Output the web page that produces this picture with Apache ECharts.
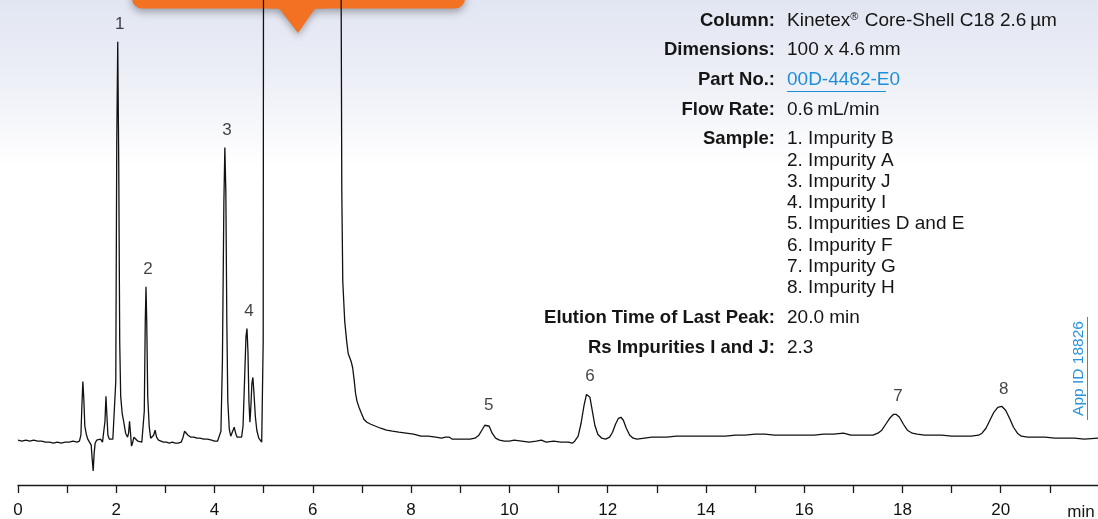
<!DOCTYPE html>
<html>
<head>
<meta charset="utf-8">
<script src="https://cdn.jsdelivr.net/npm/echarts@6/dist/echarts.min.js"></script>
<style>
html,body{margin:0;padding:0;background:#fff;}
#chart{width:1098px;height:519px;}
</style>
</head>
<body>
<div id="chart"></div>
<script>
// ---- data (time in min, detector signal in arbitrary units; baseline ~0) ----
const timeMin = [0.00,0.08,0.16,0.24,0.32,0.40,0.48,0.56,0.64,0.72,0.80,0.88,0.96,1.04,1.12,1.20,1.25,1.28,1.30,1.32,1.34,1.36,1.39,1.42,1.46,1.49,1.51,1.53,1.55,1.57,1.60,1.64,1.68,1.72,1.75,1.77,1.79,1.81,1.83,1.86,1.90,1.93,1.97,1.99,2.01,2.03,2.05,2.07,2.09,2.12,2.15,2.19,2.23,2.25,2.27,2.29,2.31,2.33,2.36,2.38,2.40,2.44,2.48,2.52,2.55,2.57,2.59,2.605,2.62,2.64,2.67,2.70,2.73,2.76,2.79,2.82,2.86,2.90,2.96,3.02,3.08,3.14,3.20,3.26,3.32,3.36,3.39,3.42,3.46,3.52,3.58,3.64,3.70,3.78,3.86,3.94,4.00,4.06,4.10,4.13,4.16,4.19,4.21,4.23,4.25,4.27,4.30,4.33,4.36,4.40,4.43,4.46,4.50,4.55,4.58,4.61,4.64,4.66,4.68,4.70,4.72,4.74,4.76,4.78,4.80,4.83,4.86,4.90,4.93,4.96,4.98,4.99,5.00,6.56,6.57,6.59,6.61,6.65,6.69,6.72,6.75,6.78,6.81,6.84,6.87,6.90,6.94,6.98,7.04,7.10,7.18,7.28,7.38,7.50,7.62,7.75,7.90,8.05,8.20,8.35,8.50,8.62,8.70,8.74,8.78,8.84,8.95,9.08,9.20,9.30,9.38,9.44,9.50,9.54,9.59,9.65,9.72,9.80,9.90,10.00,10.10,10.25,10.40,10.55,10.65,10.75,10.90,11.05,11.20,11.28,11.33,11.40,11.46,11.52,11.57,11.60,11.64,11.69,11.74,11.80,11.88,11.96,12.04,12.10,12.16,12.22,12.27,12.32,12.38,12.45,12.52,12.60,12.75,12.90,13.05,13.20,13.40,13.60,13.80,14.00,14.20,14.40,14.60,14.80,15.00,15.20,15.40,15.60,15.80,16.00,16.20,16.40,16.60,16.80,16.95,17.10,17.25,17.40,17.50,17.58,17.66,17.74,17.82,17.87,17.94,18.02,18.10,18.20,18.30,18.45,18.60,18.80,19.00,19.20,19.40,19.55,19.62,19.70,19.78,19.86,19.94,20.02,20.10,20.18,20.26,20.34,20.42,20.55,20.70,20.90,21.10,21.30,21.50,21.70,21.98];
const signal = [1,0,1,0,1,0,0,-1,-1,-2,-1,-2,-1,-1,0,-1,0,6,35,60,42,15,7,2,1,-4,-18,-30,-12,-2,1,3,2,-1,0,20,45,25,6,2,4,2,3,60,300,401,280,100,45,28,20,8,4,8,20,8,-5,-2,4,6,2,0,-2,-1,0,30,120,155,120,45,15,3,2,6,11,4,1,0,-1,-1,-2,-1,-2,-2,-1,4,10,8,6,4,4,3,3,2,2,1,0,0,1,10,80,240,295,250,120,40,12,5,6,14,8,4,3,4,15,60,105,113,90,40,19,35,58,64,50,25,11,3,1,-1,0,100,700,700,700,250,160,120,100,88,84,80,74,62,48,40,34,29,22,19,17,15,13,11,10,9,8,7,5,5,4,3,4,6,4,2,2,2,2,3,6,11,16,18,15,8,3,1,0,0,1,0,-1,0,1,-1,0,-1,-1,-2,0,5,18,36,47,48,44,30,16,7,3,2,4,9,17,23,24,21,13,6,3,2,3,4,4,4,5,5,5,5,5,5,6,6,7,7,6,6,6,6,6,7,7,8,6,6,6,6,8,11,17,23,27,27,24,17,11,8,7,6,6,6,5,5,5,6,8,13,21,29,34,35,31,23,14,8,5,4,4,4,3,3,3,2,3];

const peakLabels = ['1','2','3','4','5','6','7','8'];
const peakTimes  = [2.03, 2.605, 4.21, 4.66, 9.54, 11.60, 17.87, 20.02];
const peakHeights = [401, 155, 295, 113, 18, 48, 27, 35];

const xTicks = [0,2,4,6,8,10,12,14,16,18,20];
const xUnit = 'min';

const infoLabels = ['Column:','Dimensions:','Part No.:','Flow Rate:','Sample:','Elution Time of Last Peak:','Rs Impurities I and J:'];
const infoValues = ['Kinetex{sup|®} Core-Shell C18 2.6\u2009µm','100 x 4.6\u2009mm','00D-4462-E0','0.6\u2009mL/min','1. Impurity B','20.0 min','2.3'];
const sampleList = ['2. Impurity A','3. Impurity J','4. Impurity I','5. Impurities D and E','6. Impurity F','7. Impurity G','8. Impurity H'];
const appId = 'App ID 18826';

// ---- layout ----
const FONT = '"Liberation Sans", Arial, Helvetica, sans-serif';
const infoRowY = [21, 50, 80, 110, 139, 318, 348];
const labelX = 775, valueX = 787;

const graphics = [];
infoLabels.forEach((t, i) => {
  graphics.push({
    type: 'text', z: 50,
    style: { text: t, x: labelX, y: infoRowY[i], fill: '#151515',
      font: 'bold 18.5px ' + FONT, textAlign: 'right', align: 'right',
      textVerticalAlign: 'middle', verticalAlign: 'middle' }
  });
  const isLink = i === 2;
  graphics.push({
    type: 'text', z: 50,
    style: { text: infoValues[i], x: valueX, y: infoRowY[i], fill: isLink ? '#1d8fd6' : '#151515',
      font: '19px ' + FONT, textAlign: 'left', align: 'left',
      textVerticalAlign: 'middle', verticalAlign: 'middle',
      rich: { sup: { fontSize: 11, fontFamily: 'Liberation Sans', verticalAlign: 'top', fill: '#151515', padding: [0, 1, 0, 0] } } }
  });
});
sampleList.forEach((t, i) => {
  graphics.push({
    type: 'text', z: 50,
    style: { text: t, x: valueX, y: 139 + (i + 1) * 21.3, fill: '#151515',
      font: '19px ' + FONT, textAlign: 'left', align: 'left',
      textVerticalAlign: 'middle', verticalAlign: 'middle' }
  });
});
// link underline
graphics.push({ type: 'line', z: 50, shape: { x1: 787, y1: 91.5, x2: 886, y2: 91.5 }, style: { stroke: '#1d8fd6', lineWidth: 1 } });
// App ID rotated
graphics.push({
  type: 'text', z: 50, x: 1079, y: 368.5, rotation: Math.PI / 2,
  style: { text: appId, x: 0, y: 0, fill: '#2a93dc', font: '15.5px ' + FONT,
    textAlign: 'center', align: 'center', textVerticalAlign: 'middle', verticalAlign: 'middle' }
});
graphics.push({ type: 'line', z: 50, shape: { x1: 1087.5, y1: 317, x2: 1087.5, y2: 420 }, style: { stroke: '#2a93dc', lineWidth: 1 } });
// "min" unit
graphics.push({
  type: 'text', z: 50,
  style: { text: xUnit, x: 1081, y: 512, fill: '#151515', font: '17px ' + FONT,
    textAlign: 'center', align: 'center', textVerticalAlign: 'middle', verticalAlign: 'middle' }
});
// orange callout
graphics.push({
  type: 'group', z: 100,
  children: [
    { type: 'rect', shape: { x: 132, y: -30, width: 333, height: 38.5, r: 10 },
      style: { fill: '#f37122', shadowBlur: 9, shadowOffsetY: 3, shadowColor: 'rgba(0,0,0,0.35)' } },
    { type: 'polygon', shape: { points: [[278, 7], [316, 7], [298, 33]] },
      style: { fill: '#f37122', shadowBlur: 7, shadowOffsetY: 3, shadowColor: 'rgba(0,0,0,0.3)' } },
    { type: 'rect', shape: { x: 270, y: 0, width: 55, height: 8.5 }, style: { fill: '#f37122' } }
  ]
});

const chart = echarts.init(document.getElementById('chart'), null, { renderer: 'canvas' });
chart.setOption({
  animation: false,
  backgroundColor: {
    type: 'linear', x: 0, y: 0, x2: 0, y2: 1,
    colorStops: [
      { offset: 0, color: '#e2e6f2' },
      { offset: 0.14, color: '#eceef6' },
      { offset: 0.32, color: '#ffffff' },
      { offset: 1, color: '#ffffff' }
    ]
  },
  grid: { left: 18, right: 0, top: 0, bottom: 32, containLabel: false },
  xAxis: {
    type: 'value', min: 0, max: 21.98, interval: 1,
    axisLine: { show: true, onZero: false, lineStyle: { color: '#1a1a1a', width: 1.3 } },
    axisTick: { show: true, length: 8, inside: false, lineStyle: { color: '#1a1a1a', width: 1.3 } },
    axisLabel: {
      show: true, margin: 17, fontSize: 17, color: '#111', fontFamily: FONT,
      showMaxLabel: false,
      formatter: v => (xTicks.indexOf(v) >= 0 ? String(v) : '')
    },
    splitLine: { show: false }
  },
  yAxis: {
    type: 'value', min: -44, max: 443, show: false,
    axisLine: { show: false }, splitLine: { show: false }
  },
  series: [
    {
      type: 'line', clip: true, showSymbol: false, symbol: 'none', smooth: false,
      data: timeMin.map((t, i) => [t, signal[i]]),
      lineStyle: { color: '#111', width: 1.3 },
      z: 5
    },
    {
      type: 'scatter', symbolSize: 0, silent: true,
      data: peakTimes.map((t, i) => ({ value: [t, peakHeights[i]], name: peakLabels[i] })),
      label: { show: true, position: 'top', distance: 9, offset: [2, 0], formatter: p => p.name,
        fontSize: 17, color: '#111', fontFamily: FONT },
      z: 6
    }
  ],
  graphic: graphics
});
</script>
</body>
</html>
